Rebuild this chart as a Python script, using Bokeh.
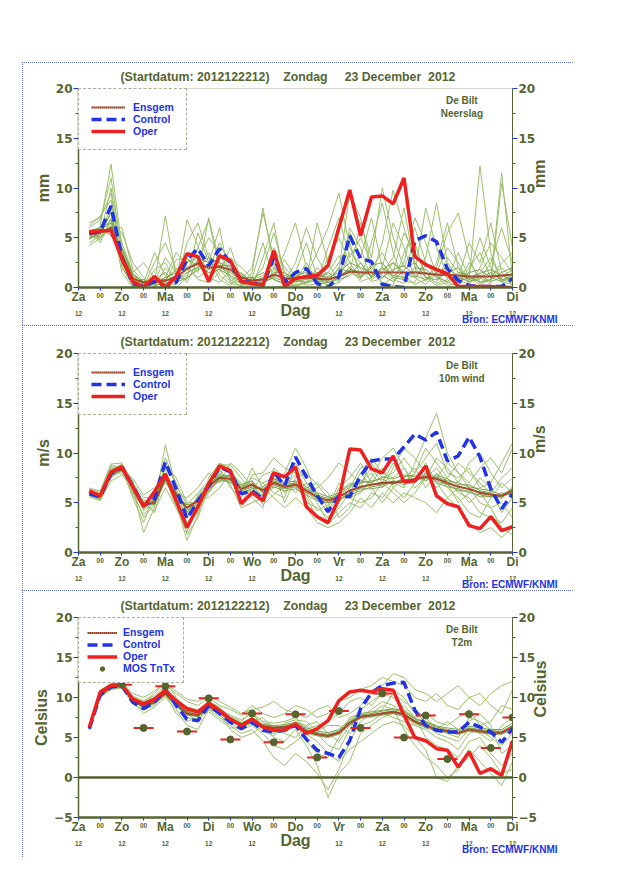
import math
from bokeh.plotting import figure
from bokeh.models import (Range1d, LinearAxis, FixedTicker, Legend, LegendItem,
                          Label, Title, ColumnDataSource, Span, Spacer)
from bokeh.layouts import column, row
from bokeh.embed import file_html
from bokeh.resources import INLINE

FONT = "Liberation Sans"
NUM_FONT = "DejaVu Sans"
OLIVE = "#556530"
BLUE = "#2233e6"
RED = "#ee2020"
GREEN = "#9cbf6c"
CORE_GREEN = "#7fa350"
BORDER_BLUE = "#3344cc"

# ---------------- data ----------------
HOURS = [6, 12, 18, 24, 30, 36, 42, 48, 54, 60, 66, 72, 78, 84, 90, 96, 102, 108, 114, 120,
         126, 132, 138, 144, 150, 156, 162, 168, 174, 180, 186, 192, 198, 204, 210, 216, 222, 228, 234, 240]
DAY_TICKS = [0, 24, 48, 72, 96, 120, 144, 168, 192, 216, 240]
DAY_NAMES = ["Za", "Zo", "Ma", "Di", "Wo", "Do", "Vr", "Za", "Zo", "Ma", "Di"]
MIDNIGHT_TICKS = [12, 36, 60, 84, 108, 132, 156, 180, 204, 228]
NOON_LABEL_TICKS = [0, 24, 48, 72, 96, 144, 168, 192, 216, 240]
MIDNIGHT_LABEL = "00"
NOON_LABEL = "12"

# precipitation (mm)
PRECIP_OPER = [5.6, 5.7, 5.7, 2.9, 0.6, 0.0, 1.1, 0.0, 1.1, 3.4, 3.1, 0.6, 3.2, 2.7, 0.6, 0.4, 0.2, 3.7, 0.1, 0.9,
               1.1, 1.2, 2.2, 6.0, 9.8, 5.2, 9.1, 9.2, 8.4, 11.0, 3.1, 2.3, 1.8, 1.4, 0.1, 0.1, 0.1, 0.1, 0.0, 0.0]
PRECIP_CTRL = [5.5, 5.6, 8.2, 3.0, 0.4, 0.1, 0.6, 0.1, 0.5, 2.8, 3.9, 2.2, 3.9, 2.5, 0.6, 0.5, 0.2, 3.0, 0.5, 1.5,
               1.9, 0.4, 0.0, 1.1, 5.2, 2.9, 2.6, 0.3, 0.1, 0.0, 4.7, 5.2, 4.6, 1.9, 0.7, 0.2, 0.1, 0.1, 0.1, 0.9]
PRECIP_ENS = [5.3, 5.5, 6.0, 3.2, 0.9, 0.5, 0.6, 0.7, 1.0, 1.9, 2.4, 2.0, 2.1, 1.8, 1.0, 0.7, 0.8, 1.3, 0.9, 0.9,
              1.0, 0.9, 0.8, 1.1, 1.6, 1.5, 1.5, 1.5, 1.5, 1.5, 1.5, 1.4, 1.3, 1.3, 1.2, 1.1, 1.1, 1.1, 1.2, 1.3]
PRECIP_MEMBERS = [
    [5.0, 6.2, 12.4, 4.1, 1.2, 0.3, 0.5, 7.2, 1.0, 0.8, 2.1, 3.5, 1.2, 0.4, 0.2, 1.5, 8.0, 2.2, 0.5, 0.3,
     0.4, 0.8, 1.5, 3.2, 2.0, 0.6, 1.0, 4.5, 9.8, 6.0, 2.5, 1.0, 0.5, 3.0, 1.5, 0.8, 12.2, 3.5, 0.6, 0.3],
    [6.5, 7.0, 9.5, 2.0, 0.2, 0.0, 1.8, 2.5, 0.6, 6.8, 4.2, 1.0, 0.5, 1.8, 0.3, 0.2, 0.6, 1.0, 3.5, 6.5,
     2.0, 0.5, 0.3, 1.0, 5.5, 3.0, 7.0, 2.0, 0.8, 0.4, 1.5, 8.0, 4.0, 1.2, 0.5, 2.5, 1.0, 0.4, 10.5, 4.0],
    [4.2, 5.0, 6.5, 5.5, 2.5, 1.0, 0.2, 0.5, 2.8, 3.0, 1.5, 7.0, 2.5, 0.8, 0.1, 0.6, 2.0, 5.5, 1.5, 0.4,
     1.2, 3.5, 6.0, 9.5, 4.0, 1.8, 0.6, 0.9, 2.5, 1.2, 0.3, 0.8, 2.0, 5.5, 7.5, 3.0, 0.5, 1.2, 2.0, 0.8],
    [5.8, 4.5, 7.0, 1.5, 0.0, 0.4, 3.5, 1.2, 0.0, 1.0, 5.5, 2.5, 6.0, 0.5, 0.6, 0.3, 0.1, 1.8, 0.4, 1.5,
     4.5, 1.0, 0.2, 0.5, 1.5, 6.5, 3.0, 10.0, 5.0, 2.0, 4.5, 1.0, 0.2, 0.5, 1.0, 4.5, 2.5, 6.5, 1.5, 0.2],
    [6.0, 6.8, 11.0, 3.5, 0.8, 0.2, 0.6, 3.0, 1.5, 2.0, 0.8, 0.5, 1.5, 4.0, 0.8, 2.0, 7.5, 3.0, 0.2, 0.2,
     0.6, 2.0, 0.8, 1.8, 9.5, 7.0, 1.5, 0.5, 0.2, 3.5, 6.0, 2.5, 1.0, 0.2, 0.4, 1.5, 5.0, 2.0, 0.5, 1.2],
    [4.8, 5.5, 8.0, 4.5, 1.5, 2.5, 1.0, 0.2, 0.4, 4.5, 6.5, 3.0, 0.8, 0.2, 1.2, 0.5, 0.8, 4.0, 2.0, 0.8,
     0.2, 0.4, 3.0, 5.0, 2.5, 0.8, 4.5, 8.5, 3.5, 0.6, 0.5, 3.0, 8.5, 2.5, 0.8, 0.3, 2.0, 4.5, 3.0, 1.5],
    [5.5, 6.0, 7.5, 2.5, 0.5, 0.1, 2.5, 4.5, 1.8, 0.5, 2.8, 5.0, 3.5, 1.0, 0.4, 0.1, 3.0, 6.5, 0.8, 0.1,
     0.5, 1.5, 0.5, 0.8, 3.5, 2.5, 1.0, 2.0, 6.5, 4.0, 1.0, 0.3, 1.5, 4.0, 2.5, 0.6, 0.8, 2.5, 6.0, 2.5],
    [4.5, 5.2, 10.0, 3.0, 0.3, 0.8, 0.3, 1.0, 3.5, 2.2, 1.0, 1.8, 4.5, 2.2, 0.2, 0.8, 1.2, 2.5, 0.6, 2.5,
     6.0, 3.0, 1.0, 2.5, 4.5, 1.0, 2.0, 3.5, 1.5, 5.5, 3.5, 1.5, 0.4, 0.8, 3.5, 1.0, 0.3, 0.8, 11.5, 1.0],
    [5.2, 4.8, 6.0, 6.0, 1.8, 0.6, 0.0, 2.0, 0.8, 1.2, 4.0, 6.8, 1.8, 0.6, 1.5, 0.4, 0.3, 1.2, 2.8, 1.0,
     0.8, 6.5, 2.5, 0.5, 6.0, 4.0, 0.8, 1.5, 3.0, 8.0, 2.0, 0.6, 2.5, 6.5, 2.0, 0.4, 1.5, 3.0, 0.8, 0.5],
    [6.2, 7.2, 8.8, 2.2, 0.1, 0.3, 1.2, 0.4, 1.2, 3.5, 2.5, 0.8, 2.0, 3.0, 2.0, 1.0, 4.5, 0.8, 0.3, 0.6,
     2.5, 0.6, 4.0, 7.0, 3.0, 5.0, 2.5, 0.3, 1.0, 2.5, 7.0, 4.5, 1.2, 0.5, 0.2, 2.0, 3.5, 1.0, 2.5, 3.5],
]
PRECIP_CORE_MEMBERS = [
    [5.4, 5.8, 6.5, 3.5, 1.0, 0.3, 0.4, 1.0, 1.5, 2.5, 3.0, 2.5, 2.0, 1.5, 0.8, 0.6, 1.0, 2.0, 1.0, 0.6,
     0.8, 1.2, 1.0, 1.5, 2.5, 2.0, 1.5, 1.0, 1.8, 2.2, 1.2, 0.8, 1.5, 2.0, 1.0, 0.6, 1.0, 1.5, 0.8, 1.0],
    [5.0, 5.3, 7.5, 2.8, 0.6, 0.8, 0.2, 0.4, 0.8, 1.5, 2.0, 3.0, 2.5, 2.0, 1.2, 0.4, 0.5, 1.0, 0.6, 1.2,
     1.5, 0.6, 0.5, 1.0, 2.0, 1.2, 2.2, 2.5, 1.0, 0.8, 2.0, 1.8, 1.0, 0.6, 1.5, 1.2, 0.5, 0.8, 1.5, 2.0],
    [5.7, 6.0, 5.2, 4.0, 1.4, 0.5, 0.8, 1.5, 0.5, 1.0, 1.8, 2.2, 3.0, 2.5, 1.0, 1.0, 0.4, 1.5, 1.5, 0.8,
     0.5, 1.0, 1.5, 0.8, 1.2, 2.5, 1.0, 1.8, 2.5, 1.5, 1.0, 2.2, 1.8, 1.0, 0.8, 1.5, 1.8, 1.0, 0.6, 1.5],
    [4.9, 5.6, 6.8, 2.5, 0.4, 0.2, 0.9, 0.8, 1.8, 2.8, 2.2, 1.5, 1.8, 1.2, 0.6, 0.9, 1.5, 0.8, 0.4, 1.0,
     1.8, 0.8, 0.6, 2.0, 1.5, 1.0, 2.0, 1.2, 0.6, 1.8, 2.5, 1.0, 0.8, 1.5, 2.0, 0.8, 1.2, 0.6, 1.0, 1.8],
    [5.5, 5.0, 6.2, 3.8, 1.2, 0.6, 0.5, 0.6, 1.2, 1.8, 2.6, 1.8, 2.2, 2.2, 1.4, 0.5, 0.8, 1.2, 1.2, 0.9,
     1.2, 1.5, 0.8, 1.2, 1.8, 1.6, 1.2, 2.0, 1.2, 1.0, 1.6, 1.5, 1.2, 1.2, 0.6, 1.0, 1.4, 1.8, 1.2, 0.8],
]

# 10 m wind (m/s)
WIND_OPER = [6.2, 5.7, 8.1, 8.6, 6.6, 4.6, 6.1, 7.9, 5.2, 2.5, 4.6, 6.9, 8.7, 8.2, 4.9, 6.0, 5.2, 8.0, 7.6, 8.6,
             4.6, 3.6, 3.0, 5.4, 10.4, 10.3, 8.4, 8.0, 9.7, 7.1, 7.2, 8.7, 5.7, 4.9, 4.6, 2.7, 2.4, 3.6, 2.2, 2.6]
WIND_CTRL = [5.9, 5.6, 7.9, 8.6, 6.7, 4.7, 5.4, 9.1, 6.4, 3.4, 5.2, 6.7, 8.6, 8.1, 5.9, 6.2, 5.4, 8.1, 6.7, 9.6,
             7.6, 5.7, 4.1, 5.7, 5.6, 7.7, 9.2, 9.4, 9.4, 10.6, 11.9, 11.3, 12.1, 9.2, 9.7, 11.6, 9.6, 6.4, 4.4, 5.9]
WIND_ENS = [6.0, 5.7, 8.0, 8.4, 6.6, 4.8, 5.0, 7.5, 5.8, 4.5, 5.2, 6.6, 7.5, 7.4, 6.4, 6.8, 6.2, 7.0, 6.6, 6.8,
            6.2, 5.6, 5.2, 5.6, 6.2, 6.6, 6.8, 7.0, 7.0, 7.2, 7.4, 7.6, 7.4, 7.0, 6.6, 6.4, 6.0, 5.8, 5.7, 6.2]
WIND_MEMBERS = [
    [6.3, 5.8, 8.4, 8.8, 6.2, 3.5, 4.8, 10.8, 6.5, 3.0, 4.0, 6.5, 8.0, 7.5, 5.0, 6.8, 5.5, 7.5, 6.0, 7.2,
     5.0, 4.5, 3.5, 5.0, 6.5, 8.5, 9.0, 7.5, 8.0, 9.5, 8.0, 10.5, 9.0, 7.5, 6.0, 5.5, 4.0, 3.5, 3.0, 4.5],
    [5.8, 5.4, 7.6, 8.2, 7.0, 5.5, 5.5, 8.5, 5.0, 1.2, 3.8, 7.5, 9.0, 8.5, 6.5, 7.5, 7.0, 6.0, 5.5, 9.0,
     7.0, 6.0, 4.5, 7.0, 5.5, 6.0, 7.5, 9.5, 10.5, 8.5, 7.0, 8.0, 6.5, 7.5, 9.0, 8.0, 7.0, 6.0, 7.5, 8.5],
    [6.5, 6.0, 8.8, 8.5, 5.5, 3.0, 6.0, 9.5, 7.0, 4.0, 5.5, 5.5, 6.5, 8.0, 7.0, 5.5, 4.5, 8.5, 7.5, 6.5,
     5.5, 3.5, 2.8, 4.0, 5.0, 4.5, 6.0, 5.5, 7.0, 6.5, 9.0, 11.5, 14.0, 10.0, 8.0, 6.5, 5.0, 4.5, 2.5, 1.8],
    [5.6, 5.2, 7.2, 7.8, 6.8, 5.0, 4.2, 6.5, 4.5, 2.0, 5.8, 7.0, 8.5, 6.5, 5.5, 7.8, 8.0, 9.5, 8.5, 8.0,
     6.5, 7.0, 6.0, 3.5, 4.5, 7.0, 8.5, 7.0, 6.0, 5.0, 6.0, 7.5, 9.5, 8.5, 7.0, 9.0, 10.0, 8.0, 6.5, 7.5],
    [6.2, 5.9, 8.2, 8.9, 7.2, 4.2, 5.2, 8.0, 6.0, 5.5, 6.5, 8.0, 7.0, 9.0, 8.0, 6.5, 5.8, 6.8, 8.0, 10.5,
     8.5, 5.5, 4.0, 6.5, 7.5, 9.0, 7.0, 8.5, 6.5, 7.5, 8.5, 6.5, 8.0, 6.5, 5.5, 4.0, 3.5, 5.5, 7.0, 6.0],
    [5.9, 5.6, 7.9, 8.0, 6.0, 4.5, 5.8, 7.0, 5.5, 3.5, 4.5, 6.0, 7.5, 7.0, 6.0, 8.5, 6.5, 5.5, 4.5, 5.5,
     4.5, 3.0, 2.5, 3.0, 4.0, 5.5, 4.5, 6.0, 5.0, 6.0, 5.5, 5.0, 4.0, 5.5, 4.5, 3.0, 2.0, 2.5, 1.5, 2.5],
    [6.1, 5.5, 8.6, 8.5, 6.5, 2.0, 4.5, 9.0, 6.8, 4.8, 6.0, 7.2, 8.8, 8.8, 7.5, 6.0, 7.0, 7.5, 6.5, 7.0,
     6.0, 6.5, 7.5, 9.0, 8.0, 7.0, 8.0, 6.5, 8.5, 10.5, 9.5, 8.0, 7.5, 9.0, 8.0, 7.0, 8.5, 9.5, 8.0, 10.5],
    [5.7, 5.3, 7.5, 8.3, 7.4, 5.8, 6.5, 7.5, 4.5, 2.8, 4.2, 6.8, 7.8, 6.8, 4.5, 5.0, 5.5, 6.5, 7.0, 6.0,
     7.0, 5.0, 3.0, 4.5, 6.0, 8.0, 6.5, 5.0, 6.5, 5.5, 7.0, 9.0, 7.0, 5.5, 6.5, 5.0, 6.0, 4.5, 5.0, 3.5],
    [6.4, 6.2, 8.9, 9.0, 5.8, 3.8, 5.0, 8.8, 7.5, 5.0, 5.0, 6.2, 7.2, 7.8, 6.8, 7.2, 4.8, 5.8, 6.8, 7.8,
     5.8, 4.2, 4.8, 6.0, 7.0, 6.5, 9.5, 8.0, 7.5, 8.5, 6.5, 7.5, 8.5, 7.0, 5.0, 6.0, 7.5, 6.5, 4.0, 5.5],
    [6.0, 5.7, 8.0, 8.6, 6.9, 4.9, 4.0, 7.8, 5.8, 1.8, 3.5, 6.4, 8.2, 7.2, 5.8, 6.2, 7.8, 8.2, 5.0, 7.5,
     8.0, 6.8, 5.5, 5.5, 5.5, 5.0, 5.5, 7.0, 9.0, 7.0, 8.0, 9.5, 11.0, 8.0, 7.5, 8.5, 6.5, 7.0, 9.0, 11.0],
]
WIND_CORE_MEMBERS = [
    [6.1, 5.8, 8.2, 8.5, 6.8, 4.6, 5.2, 7.8, 5.9, 4.2, 5.4, 6.8, 7.8, 7.6, 6.2, 6.6, 6.4, 7.2, 6.8, 7.0,
     6.4, 5.8, 5.4, 5.8, 6.6, 7.0, 7.2, 7.4, 6.8, 7.6, 7.8, 7.2, 7.8, 7.4, 6.8, 6.8, 6.2, 6.0, 5.4, 6.6],
    [5.9, 5.6, 7.8, 8.3, 6.4, 5.0, 4.8, 7.2, 5.6, 4.8, 5.0, 6.4, 7.2, 7.2, 6.6, 7.0, 6.0, 6.8, 6.4, 6.6,
     6.0, 5.4, 5.0, 5.4, 5.8, 6.2, 6.6, 6.8, 7.2, 7.0, 7.0, 8.0, 7.0, 6.6, 6.4, 6.0, 5.8, 5.6, 6.0, 5.8],
    [6.0, 5.7, 8.1, 8.6, 6.7, 4.4, 5.4, 7.9, 6.1, 4.0, 5.6, 6.9, 7.6, 7.8, 6.0, 6.4, 6.6, 7.4, 7.0, 7.2,
     6.6, 6.0, 5.6, 6.0, 6.8, 7.2, 7.0, 7.6, 7.4, 7.8, 7.6, 7.4, 7.6, 7.2, 7.0, 6.6, 6.4, 6.2, 5.8, 6.4],
    [6.2, 5.9, 7.9, 8.2, 6.5, 5.2, 5.0, 7.3, 5.4, 4.6, 4.8, 6.2, 7.4, 7.0, 6.8, 7.2, 6.0, 6.6, 6.2, 6.4,
     5.8, 5.2, 5.0, 5.2, 6.0, 6.4, 6.4, 6.6, 7.2, 6.8, 7.2, 7.8, 7.2, 6.8, 6.2, 6.2, 5.6, 5.6, 5.6, 6.0],
    [5.8, 5.5, 7.7, 8.4, 6.9, 4.9, 5.2, 7.6, 6.0, 4.4, 5.3, 6.5, 7.7, 7.3, 6.3, 6.9, 6.3, 7.1, 6.5, 6.9,
     6.3, 5.5, 5.3, 5.5, 6.3, 6.5, 6.9, 6.9, 7.1, 7.3, 7.3, 7.5, 7.5, 6.9, 6.7, 6.3, 6.1, 5.9, 5.6, 6.3],
]

# 2 m temperature (Celsius)
TEMP_OPER = [6.3, 10.7, 11.5, 11.6, 9.8, 9.2, 9.8, 10.9, 9.6, 8.6, 8.2, 9.3, 8.4, 7.3, 6.5, 7.3, 6.3, 5.9, 5.9, 6.7,
             5.5, 6.1, 7.1, 9.6, 10.7, 10.9, 10.7, 11.1, 10.9, 7.8, 5.0, 4.6, 3.6, 3.4, 1.3, 3.2, 0.5, 1.1, 0.25, 4.6]
TEMP_CTRL = [6.1, 10.3, 11.3, 11.5, 9.4, 8.6, 9.4, 11.1, 9.0, 7.3, 7.1, 9.0, 8.0, 6.9, 6.1, 6.9, 5.9, 5.7, 5.9, 6.5,
             4.8, 3.4, 3.0, 2.5, 4.6, 8.6, 10.6, 11.5, 11.8, 11.9, 8.4, 6.5, 5.9, 5.7, 5.7, 6.9, 6.3, 5.7, 4.4, 6.1]
TEMP_ENS = [6.2, 10.4, 11.3, 11.5, 9.6, 8.9, 9.4, 10.5, 9.2, 8.0, 7.8, 8.9, 8.2, 7.2, 6.6, 7.0, 6.4, 6.2, 6.3, 6.6,
            5.8, 5.4, 5.2, 5.6, 6.8, 7.6, 7.8, 8.0, 8.2, 7.9, 7.0, 6.5, 6.0, 5.8, 5.6, 6.0, 5.8, 5.6, 5.6, 6.3]
TEMP_MEMBERS = [
    [6.0, 10.0, 11.2, 11.8, 10.2, 9.5, 10.5, 12.0, 10.0, 8.5, 8.0, 9.5, 8.8, 7.5, 6.8, 7.5, 6.8, 6.5, 6.0, 7.0,
     6.5, 5.5, 4.0, 3.5, 6.0, 8.5, 9.5, 10.5, 11.0, 10.0, 8.0, 7.0, 6.5, 5.5, 5.0, 7.5, 7.0, 6.0, 5.5, 6.5],
    [6.4, 10.6, 11.5, 11.4, 9.5, 8.0, 8.8, 10.0, 8.5, 6.5, 6.0, 8.5, 7.5, 6.5, 5.5, 6.0, 4.5, 2.5, 1.5, 3.0,
     2.0, 0.5, -1.5, 1.0, 4.5, 7.0, 8.0, 9.0, 8.5, 6.0, 4.0, 2.5, 1.5, 0.0, 1.0, 3.5, 2.0, 0.5, -1.0, 2.0],
    [6.1, 10.4, 11.6, 11.7, 10.0, 9.6, 10.2, 11.5, 10.5, 9.5, 9.0, 10.0, 9.0, 8.5, 7.8, 9.0, 8.0, 7.5, 8.0, 9.0,
     8.5, 7.5, 8.0, 9.5, 10.0, 11.0, 11.5, 12.5, 12.0, 11.5, 10.0, 9.5, 10.5, 9.0, 8.5, 10.0, 10.5, 9.0, 8.0, 11.0],
    [6.3, 10.2, 11.0, 11.2, 9.2, 8.5, 9.0, 10.5, 8.0, 7.0, 7.5, 8.8, 8.0, 6.0, 5.0, 5.5, 6.5, 5.0, 4.5, 6.0,
     4.0, 1.5, -2.5, 0.5, 2.0, 5.5, 6.5, 7.5, 8.0, 9.0, 7.5, 5.0, 4.0, 3.5, 2.5, 4.5, 5.0, 3.0, 1.5, 3.0],
    [6.2, 10.8, 11.8, 11.6, 9.8, 9.0, 9.5, 10.8, 9.5, 8.0, 7.0, 9.2, 8.5, 7.8, 7.2, 8.0, 7.0, 6.8, 7.0, 7.5,
     6.0, 6.5, 7.0, 8.0, 9.5, 10.0, 9.0, 10.5, 10.0, 8.5, 7.5, 8.0, 7.0, 6.5, 7.5, 8.5, 6.5, 7.0, 9.0, 8.5],
    [6.0, 10.3, 11.4, 11.3, 9.6, 9.2, 9.8, 11.0, 9.8, 8.8, 8.5, 9.0, 7.8, 6.8, 6.0, 6.5, 5.5, 4.0, 3.5, 4.5,
     5.5, 4.5, 3.0, 2.0, 3.5, 4.5, 5.5, 6.5, 7.0, 6.5, 5.0, 3.5, 0.0, -0.5, 1.5, 2.5, 4.0, 2.5, 0.5, 1.0],
    [6.5, 10.9, 11.7, 11.9, 10.5, 10.0, 10.8, 11.8, 10.8, 9.8, 9.5, 10.2, 9.5, 8.8, 8.0, 8.5, 8.8, 9.5, 8.5, 8.0,
     7.5, 8.5, 9.0, 7.5, 8.0, 9.0, 10.5, 11.5, 13.0, 12.5, 11.0, 10.5, 9.5, 10.5, 11.5, 10.0, 9.0, 10.5, 11.5, 12.0],
    [6.2, 10.5, 11.3, 11.5, 9.4, 8.8, 9.2, 10.2, 9.0, 7.5, 7.2, 8.5, 8.2, 7.0, 6.5, 7.0, 7.5, 6.0, 5.5, 5.0,
     6.5, 7.0, 5.5, 4.5, 6.5, 7.5, 8.5, 9.5, 9.0, 8.0, 6.5, 6.0, 5.0, 4.5, 3.5, 5.5, 6.0, 5.0, 4.0, 5.5],
    [6.1, 10.1, 11.0, 11.3, 9.9, 9.4, 10.0, 11.2, 9.4, 8.2, 8.2, 9.6, 8.6, 7.6, 7.0, 8.2, 6.2, 5.5, 6.5, 6.8,
     4.5, 3.0, 2.5, 5.0, 7.5, 8.0, 7.5, 8.5, 10.5, 9.5, 8.5, 7.5, 6.0, 7.0, 6.0, 7.0, 8.0, 6.5, 3.0, 4.0],
    [6.3, 10.7, 11.6, 11.8, 10.1, 8.6, 9.6, 10.6, 9.6, 8.4, 7.8, 8.2, 7.2, 6.2, 6.2, 6.8, 5.8, 5.2, 6.8, 7.2,
     7.0, 5.8, 6.5, 6.5, 5.5, 6.5, 7.0, 8.0, 7.5, 7.0, 6.5, 7.0, 5.5, 5.0, 4.5, 6.0, 5.5, 4.5, 6.5, 7.5],
]
TEMP_CORE_MEMBERS = [
    [6.2, 10.4, 11.4, 11.6, 9.7, 9.0, 9.5, 10.7, 9.3, 8.2, 7.9, 9.0, 8.3, 7.3, 6.7, 7.1, 6.6, 6.4, 6.4, 6.8,
     6.0, 5.6, 5.4, 5.8, 7.0, 7.8, 8.0, 8.3, 8.5, 8.2, 7.3, 6.8, 6.3, 6.0, 5.8, 6.2, 6.0, 5.8, 5.8, 6.5],
    [6.1, 10.3, 11.2, 11.4, 9.5, 8.8, 9.3, 10.4, 9.0, 7.8, 7.6, 8.8, 8.0, 7.0, 6.5, 6.8, 6.2, 6.0, 6.1, 6.4,
     5.6, 5.2, 5.0, 5.4, 6.6, 7.4, 7.6, 7.8, 8.0, 7.6, 6.8, 6.2, 5.8, 5.6, 5.4, 5.8, 5.6, 5.4, 5.4, 6.0],
    [6.3, 10.5, 11.4, 11.5, 9.7, 9.1, 9.6, 10.6, 9.4, 8.3, 8.0, 9.1, 8.4, 7.4, 6.8, 7.2, 6.6, 6.5, 6.6, 6.9,
     6.2, 5.8, 5.6, 6.0, 7.2, 8.0, 8.2, 8.4, 8.6, 8.3, 7.4, 7.0, 6.4, 6.2, 6.0, 6.4, 6.2, 6.0, 6.0, 6.8],
    [6.2, 10.2, 11.3, 11.6, 9.6, 8.7, 9.3, 10.5, 9.1, 7.9, 7.7, 8.8, 8.1, 7.1, 6.4, 7.0, 6.2, 6.0, 6.2, 6.5,
     5.7, 5.3, 5.1, 5.5, 6.7, 7.5, 7.7, 7.9, 8.1, 7.8, 6.9, 6.4, 5.9, 5.7, 5.5, 5.9, 5.7, 5.5, 5.5, 6.2],
    [6.0, 10.6, 11.3, 11.4, 9.4, 9.0, 9.6, 10.3, 9.1, 8.1, 7.6, 8.7, 8.3, 7.4, 6.5, 6.9, 6.5, 6.3, 6.2, 6.5,
     5.9, 5.5, 5.3, 5.7, 6.9, 7.7, 7.7, 8.1, 8.3, 8.0, 7.1, 6.6, 6.1, 5.9, 5.5, 6.1, 5.9, 5.7, 5.7, 6.4],
]
MOS_HOURS = [24, 36, 48, 60, 72, 84, 96, 108, 120, 132, 144, 156, 168, 180, 192, 204, 216, 228, 240]
MOS_TNTX = [11.6, 6.2, 11.4, 5.75, 9.9, 4.75, 8.0, 4.4, 7.9, 2.5, 8.3, 6.2, 10.5, 5.0, 7.75, 2.3, 7.9, 3.7, 7.5]

NB = "\u00a0"
TITLE = "(Startdatum: 2012122212)" + NB * 4 + "Zondag" + NB * 5 + "23 December" + NB * 2 + "2012"
SOURCE = "Bron: ECMWF/KNMI"
STATION = "De Bilt"
XLABEL = "Dag"


def make_panel(units, subtitle, members, core, ens, ctrl, oper, ymin, ymax, yticks, yminor,
               height, top, bottom, leg_pad, row_h, glyph_w, mos=None):
    p = figure(width=551, height=height, x_range=Range1d(0, 240), y_range=Range1d(ymin, ymax),
               x_axis_type=None, y_axis_type=None, output_backend="svg", toolbar_location=None,
               min_border_left=56, min_border_right=61, min_border_top=top, min_border_bottom=bottom,
               background_fill_color="white", border_fill_color="white",
               outline_line_color="#a9b59c", outline_line_dash="1 1", outline_line_width=1,
               styles={"outline": f"1px dotted {BORDER_BLUE}", "outline-offset": "-1px"})

    def yaxis(loc, lw, orient):
        ax = LinearAxis(ticker=FixedTicker(ticks=yticks, minor_ticks=yminor), axis_label=units,
                        axis_line_color=OLIVE, axis_line_width=lw,
                        major_tick_line_color=BLUE, major_tick_out=5, major_tick_in=0,
                        minor_tick_line_color=OLIVE, minor_tick_out=3, minor_tick_in=0,
                        major_label_text_color=OLIVE, major_label_text_font=NUM_FONT,
                        major_label_text_font_size="12px", major_label_text_font_style="bold",
                        major_label_standoff=1,
                        axis_label_text_color=OLIVE, axis_label_text_font=FONT,
                        axis_label_text_font_size="16px", axis_label_text_font_style="bold",
                        axis_label_standoff=1, axis_label_orientation=orient)
        p.add_layout(ax, loc)
        return ax

    yaxis("left", 1.5, "parallel")
    yaxis("right", 1, math.pi / 2)

    # axis A: line, ticks and the small "00" labels at midnight
    ax_a = LinearAxis(ticker=FixedTicker(ticks=MIDNIGHT_TICKS, minor_ticks=DAY_TICKS),
                      major_label_overrides={t: MIDNIGHT_LABEL for t in MIDNIGHT_TICKS},
                      axis_line_color=OLIVE, axis_line_width=2.5,
                      major_tick_line_color=BLUE, major_tick_out=3, major_tick_in=0,
                      minor_tick_line_color=BLUE, minor_tick_out=3, minor_tick_in=0,
                      major_label_text_color=OLIVE, major_label_text_font=FONT,
                      major_label_text_font_size="6.5px", major_label_text_font_style="bold",
                      major_label_standoff=2)
    p.add_layout(ax_a, "below")
    # axis B: day names, pulled up onto the same row
    ax_b = LinearAxis(ticker=FixedTicker(ticks=DAY_TICKS, minor_ticks=[]),
                      major_label_overrides={t: n for t, n in zip(DAY_TICKS, DAY_NAMES)},
                      axis_line_color=None, major_tick_line_color=None, minor_tick_line_color=None,
                      major_tick_out=0, major_tick_in=0, minor_tick_out=0, minor_tick_in=0,
                      major_label_text_color=OLIVE, major_label_text_font=FONT,
                      major_label_text_font_size="12px", major_label_text_font_style="bold",
                      major_label_standoff=-11)
    p.add_layout(ax_b, "below")
    # axis C: "12" hour labels and the "Dag" title
    ax_c = LinearAxis(ticker=FixedTicker(ticks=NOON_LABEL_TICKS, minor_ticks=[]),
                      major_label_overrides={t: NOON_LABEL for t in NOON_LABEL_TICKS},
                      axis_line_color=None, major_tick_line_color=None, minor_tick_line_color=None,
                      major_tick_out=0, major_tick_in=0, minor_tick_out=0, minor_tick_in=0,
                      major_label_text_color=OLIVE, major_label_text_font=FONT,
                      major_label_text_font_size="6.5px", major_label_text_font_style="bold",
                      major_label_standoff=4,
                      axis_label=XLABEL, axis_label_text_color=OLIVE, axis_label_text_font=FONT,
                      axis_label_text_font_size="16px", axis_label_text_font_style="bold",
                      axis_label_standoff=-17)
    p.add_layout(ax_c, "below")
    p.add_layout(Title(text=SOURCE, align="right", offset=-45, standoff=-16, vertical_align="top",
                       text_color=BLUE, text_font=FONT, text_font_size="10px",
                       text_font_style="bold"), "below")
    p.add_layout(Title(text=TITLE, align="left", offset=42, standoff=10,
                       text_color=OLIVE, text_font=FONT, text_font_size="12.3px",
                       text_font_style="bold"), "above")

    if ymin < 0:
        p.add_layout(Span(location=0, dimension="width", line_color=OLIVE, line_width=2.5))
        p.add_layout(Span(location=0, dimension="width", line_color=BLUE, line_width=1, line_dash="1 3"))

    msrc = ColumnDataSource(dict(xs=[HOURS] * len(members), ys=members))
    p.multi_line("xs", "ys", source=msrc, line_color=GREEN, line_width=1)
    csrc = ColumnDataSource(dict(xs=[HOURS] * len(core), ys=core))
    p.multi_line("xs", "ys", source=csrc, line_color=CORE_GREEN, line_width=1)

    e1 = p.line(HOURS, ens, line_color=OLIVE, line_width=2, line_dash="2 2")
    e2 = p.line(HOURS, ens, line_color=RED, line_width=2, line_dash="2 2", line_dash_offset=2)
    c = p.line(HOURS, ctrl, line_color=BLUE, line_width=3.5, line_dash="10 5")
    o = p.line(HOURS, oper, line_color=RED, line_width=3.5)
    items = [LegendItem(label="Ensgem", renderers=[e1, e2]),
             LegendItem(label="Control", renderers=[c]),
             LegendItem(label="Oper", renderers=[o])]
    if mos is not None:
        p.scatter(MOS_HOURS, mos, marker="dash", size=20, line_color=RED, line_width=2)
        d = p.scatter(MOS_HOURS, mos, marker="circle", size=7, fill_color=OLIVE, line_color=OLIVE)
        items.append(LegendItem(label="MOS TnTx", renderers=[d]))

    leg = Legend(items=items, location="top_left", margin=0, padding=leg_pad, spacing=0,
                 glyph_width=glyph_w, glyph_height=row_h, label_height=row_h, label_width=38,
                 label_standoff=6 if mos is not None else 8, label_text_color=BLUE, label_text_font=FONT,
                 label_text_font_size="10.5px", label_text_font_style="bold",
                 border_line_color=OLIVE, border_line_dash="1 1", border_line_width=1,
                 background_fill_color="white", background_fill_alpha=1)
    p.add_layout(leg)

    p.add_layout(Label(x=212, y=ymax, y_offset=-12, text=STATION, text_align="center",
                       text_baseline="middle", text_font=FONT, text_font_size="10px",
                       text_font_style="bold", text_color=OLIVE))
    p.add_layout(Label(x=212, y=ymax, y_offset=-25, text=subtitle, text_align="center",
                       text_baseline="middle", text_font=FONT, text_font_size="10px",
                       text_font_style="bold", text_color=OLIVE))
    return p


p1 = make_panel("mm", "Neerslag", PRECIP_MEMBERS, PRECIP_CORE_MEMBERS, PRECIP_ENS, PRECIP_CTRL, PRECIP_OPER,
                0, 20, [0, 5, 10, 15, 20], [2.5, 7.5, 12.5, 17.5], 263, 26, 38, 12, 12, 34)
p2 = make_panel("m/s", "10m wind", WIND_MEMBERS, WIND_CORE_MEMBERS, WIND_ENS, WIND_CTRL, WIND_OPER,
                0, 20, [0, 5, 10, 15, 20], [2.5, 7.5, 12.5, 17.5], 265, 28, 38, 12, 12, 34)
p3 = make_panel("Celsius", "T2m", TEMP_MEMBERS, TEMP_CORE_MEMBERS, TEMP_ENS, TEMP_CTRL, TEMP_OPER,
                -5, 20, [-5, 0, 5, 10, 15, 20], [-2.5, 2.5, 7.5, 12.5, 17.5], 267, 27, 40, 8, 11, 30,
                mos=MOS_TNTX)

layout = row(Spacer(width=22), column(Spacer(height=62), p1, p2, p3))
open("out.html", "w").write(file_html(layout, INLINE))
